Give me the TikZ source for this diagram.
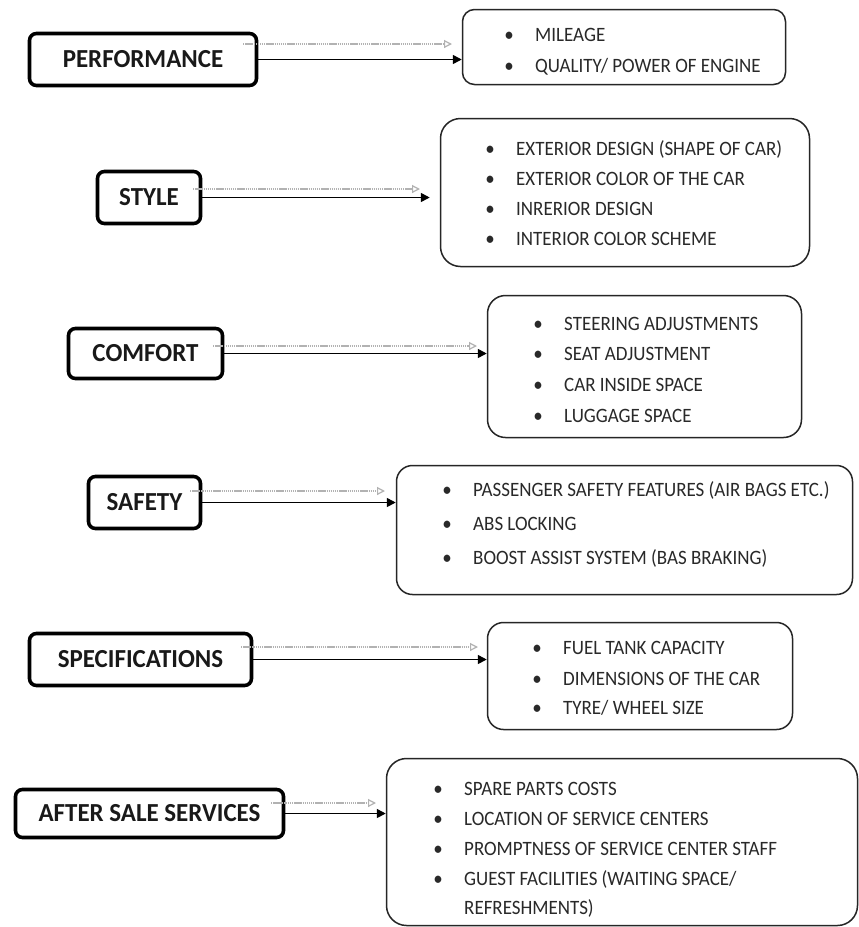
\documentclass[tikz,border=0pt]{standalone}
\usepackage{fontspec}
\setmainfont{Carlito}
\newfontfamily\itemfont{Carlito}[FakeStretch=0.93]
\newfontfamily\hdrfont{Carlito}[FakeStretch=0.96]
\usetikzlibrary{arrows.meta}
\newcommand\listitem[4]{\node[itm] (#1) at (#2-26,#3+7) {\makebox[52pt][c]{\textbullet}#4};}
\begin{document}
\begin{tikzpicture}[x=1pt,y=-1pt,
 hdr/.style={draw=black, line width=3.6pt, rounded corners=7pt, font=\hdrfont\fontsize{26}{30}\selectfont\bfseries, text=black!90, inner sep=0pt},
 lst/.style={draw=black!85, line width=1.5pt, rounded corners=16pt, inner sep=0pt},
 itm/.style={font=\itemfont\fontsize{20.4}{24}\selectfont, text=black!84, inner sep=0pt, anchor=base west},
 solidarr/.style={draw=black, line width=1.6pt, -{Triangle[length=9pt,width=9pt]}},
 grayarr/.style={draw=black!30, line width=2pt, dash pattern=on 1.4pt off 0.7pt, -{Triangle[open,length=8pt,width=8pt,line width=1.2pt]}}]
\fill[white] (0,0) rectangle (859,927);
\useasboundingbox (0,0) rectangle (859,927);

% headers
\node[hdr, minimum width=227pt, minimum height=52pt] (h1) at (143,59.5) {PERFORMANCE};
\node[hdr, minimum width=103pt, minimum height=52pt] (h2) at (149,197.5) {STYLE};
\node[hdr, minimum width=154pt, minimum height=50pt] (h3) at (145.5,353.5) {COMFORT};
\node[hdr, minimum width=112pt, minimum height=52pt] (h4) at (144.5,502.5) {SAFETY};
\node[hdr, minimum width=222pt, minimum height=52pt] (h5) at (140.5,659.5) {SPECIFICATIONS};
\node[hdr, minimum width=268pt, minimum height=48pt] (h6) at (149.5,813.5) {AFTER SALE SERVICES};

% list boxes
\node[lst, minimum width=323pt, minimum height=75pt, rounded corners=12pt] (b1) at (624,47) {};
\node[lst, minimum width=369pt, minimum height=148pt, rounded corners=20pt] (b2) at (625,192.5) {};
\node[lst, minimum width=314pt, minimum height=142pt, rounded corners=18pt] (b3) at (644.5,366.5) {};
\node[lst, minimum width=456pt, minimum height=129pt] (b4) at (624.5,530) {};
\node[lst, minimum width=305pt, minimum height=107pt] (b5) at (640,676) {};
\node[lst, minimum width=471pt, minimum height=167pt, rounded corners=20pt] (b6) at (622,842) {};

% items
\listitem{i11}{509}{34}{MILEAGE}
\listitem{i12}{509}{65}{QUALITY/ POWER OF ENGINE}
\listitem{i21}{490}{148}{EXTERIOR DESIGN (SHAPE OF CAR)}
\listitem{i22}{490}{178}{EXTERIOR COLOR OF THE CAR}
\listitem{i23}{490}{208}{INRERIOR DESIGN}
\listitem{i24}{490}{238}{INTERIOR COLOR SCHEME}
\listitem{i31}{538}{323}{STEERING ADJUSTMENTS}
\listitem{i32}{538}{353}{SEAT ADJUSTMENT}
\listitem{i33}{538}{384}{CAR INSIDE SPACE}
\listitem{i34}{538}{415}{LUGGAGE SPACE}
\listitem{i41}{447}{489}{PASSENGER SAFETY FEATURES (AIR BAGS ETC.)}
\listitem{i42}{447}{523}{ABS LOCKING}
\listitem{i43}{447}{557}{BOOST ASSIST SYSTEM (BAS BRAKING)}
\listitem{i51}{537}{647}{FUEL TANK CAPACITY}
\listitem{i52}{537}{678}{DIMENSIONS OF THE CAR}
\listitem{i53}{537}{707}{TYRE/ WHEEL SIZE}
\listitem{i61}{438}{788}{SPARE PARTS COSTS}
\listitem{i62}{438}{818}{LOCATION OF SERVICE CENTERS}
\listitem{i63}{438}{848}{PROMPTNESS OF SERVICE CENTER STAFF}
\listitem{i64}{438}{878}{GUEST FACILITIES (WAITING SPACE/}
\node[itm] (i65) at (438-26,907+7) {\makebox[52pt]{}REFRESHMENTS)};

% gray shadow arrows
\coordinate (g1a) at (243,44);  \coordinate (g1b) at (452,44);
\coordinate (g2a) at (193,189); \coordinate (g2b) at (420,189);
\coordinate (g3a) at (213,346); \coordinate (g3b) at (477,346);
\coordinate (g4a) at (190,491); \coordinate (g4b) at (385,491);
\coordinate (g5a) at (241,647); \coordinate (g5b) at (478,647);
\coordinate (g6a) at (271,803); \coordinate (g6b) at (376,803);
\foreach \i in {1,...,6} {\draw[grayarr] (g\i a) -- (g\i b);}

% solid arrows
\draw[solidarr] (h1.east) -- (h1.east -| b1.west);
\draw[solidarr, shorten >=10pt] (h2.east) -- (h2.east -| b2.west);
\draw[solidarr] (h3.east) -- (h3.east -| b3.west);
\draw[solidarr] (h4.east) -- (h4.east -| b4.west);
\draw[solidarr] (h5.east) -- (h5.east -| b5.west);
\draw[solidarr] (h6.east) -- (h6.east -| b6.west);
\end{tikzpicture}
\end{document}
